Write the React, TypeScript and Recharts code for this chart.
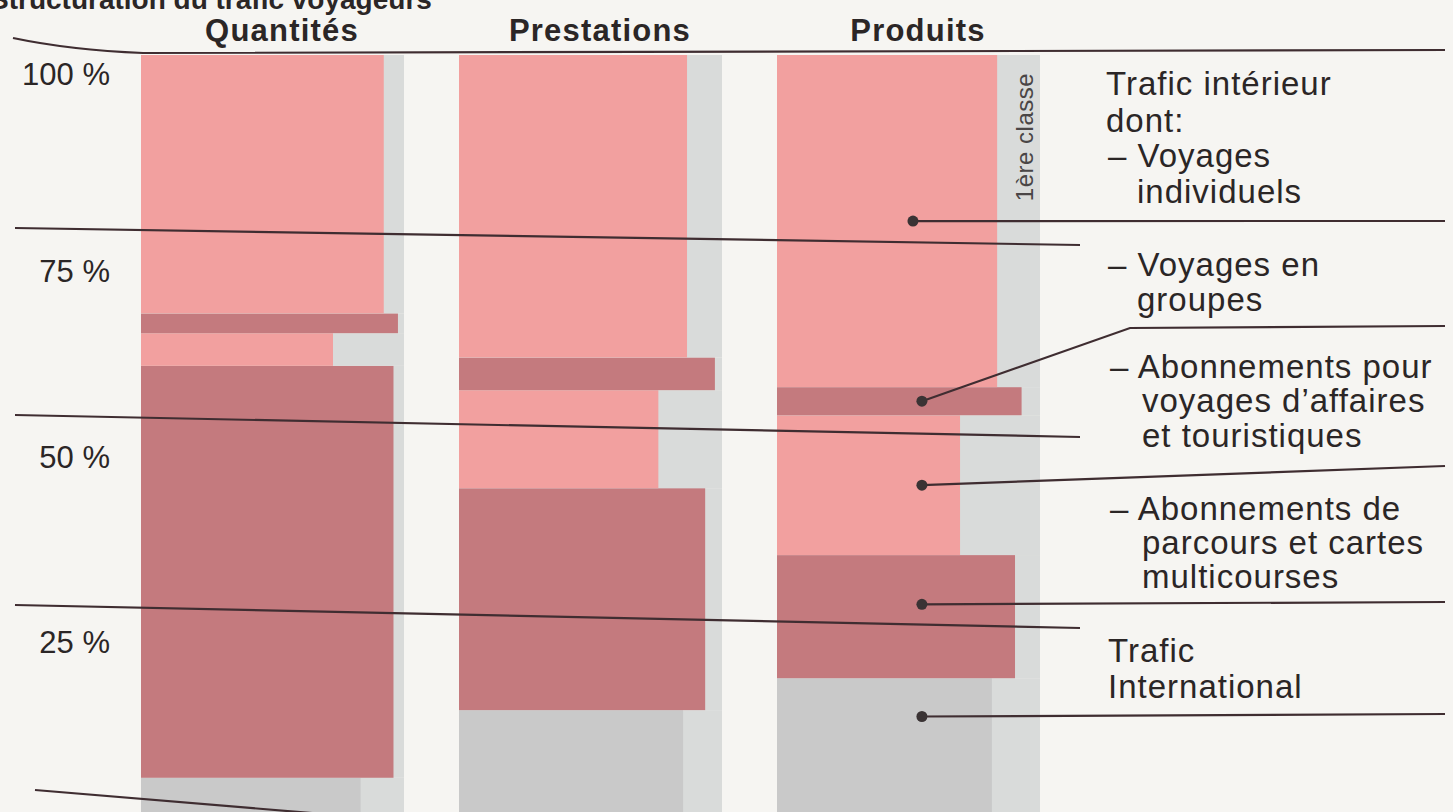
import React from 'react';
import { BarChart, Bar, XAxis, YAxis, ReferenceLine } from 'recharts';

// ---------- data ----------
const categories = ['Quantités', 'Prestations', 'Produits'];
// share of total traffic, % (stacked bottom -> top)
const international = [4.9, 13.8, 18.0];
const parcours = [54.2, 29.2, 16.2];
const affaires = [4.3, 12.9, 18.4];
const groupes = [2.6, 4.3, 3.7];
const individuels = [34.0, 39.8, 43.7];
// part of each segment travelling in 2nd class, % (rest = 1ère classe)
const international2 = [83.5, 85.2, 81.7];
const parcours2 = [96.0, 93.6, 90.5];
const affaires2 = [73.0, 75.8, 69.6];
const groupes2 = [97.7, 97.3, 93.0];
const individuels2 = [92.3, 86.7, 83.7];
const yTicks = [0, 25, 50, 75, 100];
const tickLabels = ['', '25 %', '50 %', '75 %', '100 %'];

const data = categories.map((name, i) => ({
  name,
  international: international[i],
  parcours: parcours[i],
  affaires: affaires[i],
  groupes: groupes[i],
  individuels: individuels[i],
  international2: international2[i],
  parcours2: parcours2[i],
  affaires2: affaires2[i],
  groupes2: groupes2[i],
  individuels2: individuels2[i],
}));

// ---------- styles ----------
const FONT = '"Liberation Sans", Arial, Helvetica, sans-serif';
const INK = '#2b2626';
const LINE = '#3f2d31';
const STRIP = '#d9dbda';
const LIGHT = '#f2a09f';
const DARK = '#c47a7e';
const GREY = '#c9c9c9';
const BG = '#f6f5f2';
const LEADER_CATEGORY = 'Produits';

const SERIES = [
  { key: 'international', share: 'international2', color: GREY, dotX: 0.551, dotF: 0.28, leader: [[1445, 714]] },
  { key: 'parcours', share: 'parcours2', color: DARK, dotX: 0.551, dotF: 0.4, leader: [[1445, 602]] },
  { key: 'affaires', share: 'affaires2', color: LIGHT, dotX: 0.551, dotF: 0.5, leader: [[1445, 466]] },
  { key: 'groupes', share: 'groupes2', color: DARK, dotX: 0.551, dotF: 0.5, leader: [[1130, 328], [1445, 326]] },
  { key: 'individuels', share: 'individuels2', color: LIGHT, dotX: 0.517, dotF: 0.5, leader: [[1445, 221]] },
];

// gridline drawing offsets (hand-drawn, slightly slanted lines)
const GRID_STYLE: Record<number, { path: (y: number) => string; labelDy: number }> = {
  100: { path: (y) => `M13,${y - 17} Q70,${y - 5} 143,${y - 2} L1445,${y - 5}`, labelDy: 30 },
  75: { path: (y) => `M15,${y - 17} L1080,${y}`, labelDy: 37 },
  50: { path: (y) => `M15,${y - 20} L1080,${y + 2}`, labelDy: 33 },
  25: { path: (y) => `M15,${y - 20} L1080,${y + 3}`, labelDy: 28 },
  0: { path: (y) => `M35,${y - 25} L1080,${y + 62}`, labelDy: 30 },
};

function Leaders(props: any) {
  const { x, y, width, height, payload } = props;
  const topKey = SERIES[SERIES.length - 1].key;
  const ppu = height / payload[topKey];
  let top = y;
  const out: React.ReactNode[] = [];
  for (let i = SERIES.length - 1; i >= 0; i--) {
    const s = SERIES[i];
    const h = payload[s.key] * ppu;
    const cx = x + width * s.dotX;
    const cy = top + h * s.dotF;
    const pts = [[cx, cy], ...s.leader];
    out.push(
      <g key={s.key}>
        <polyline
          points={pts.map((p) => p.join(',')).join(' ')}
          fill="none"
          stroke={LINE}
          strokeWidth={2.2}
        />
        <circle cx={cx} cy={cy} r={5.5} fill="#3a3334" />
      </g>
    );
    top += h;
  }
  return <g>{out}</g>;
}

function segShape(idx: number) {
  const s = SERIES[idx];
  return (props: any) => {
    const { x, y, width, height, payload } = props;
    if (!height || height <= 0) return <g />;
    const share = payload[s.share] / 100;
    return (
      <g>
        <rect x={x} y={y} width={width} height={height} fill={STRIP} />
        <rect x={x} y={y} width={width * share} height={height} fill={s.color} />
        {idx === SERIES.length - 1 && payload.name === LEADER_CATEGORY ? <Leaders {...props} /> : null}
      </g>
    );
  };
}

function gridShape(value: number, label: string) {
  return (p: any) => {
    const y = p.y1;
    const st = GRID_STYLE[value];
    return (
      <g>
        <path d={st.path(y)} fill="none" stroke={LINE} strokeWidth={2.2} />
        {label ? (
          <text x={110} y={y + st.labelDy} textAnchor="end" fontFamily={FONT} fontSize={31} fill={INK}>
            {label}
          </text>
        ) : null}
      </g>
    );
  };
}

function HeadTick(props: any) {
  const { x, payload } = props;
  return (
    <text
      x={x + 10}
      y={41}
      textAnchor="middle"
      fontFamily={FONT}
      fontWeight="bold"
      fontSize={31}
      letterSpacing={1.2}
      fill={INK}
    >
      {payload.value}
    </text>
  );
}

const legendLines: { x: number; y: number; t: string }[] = [
  { x: 1106, y: 95, t: 'Trafic intérieur' },
  { x: 1106, y: 132, t: 'dont:' },
  { x: 1108, y: 167, t: '– Voyages' },
  { x: 1137, y: 203, t: 'individuels' },
  { x: 1108, y: 276, t: '– Voyages en' },
  { x: 1137, y: 311, t: 'groupes' },
  { x: 1110, y: 378, t: '– Abonnements pour' },
  { x: 1142, y: 412, t: 'voyages d’affaires' },
  { x: 1142, y: 447, t: 'et touristiques' },
  { x: 1110, y: 520, t: '– Abonnements de' },
  { x: 1142, y: 554, t: 'parcours et cartes' },
  { x: 1142, y: 588, t: 'multicourses' },
  { x: 1108, y: 662, t: 'Trafic' },
  { x: 1108, y: 698, t: 'International' },
];

export default function App() {
  return (
    <div
      style={{
        position: 'absolute',
        left: 0,
        top: 0,
        width: 1453,
        height: 812,
        overflow: 'hidden',
        background: BG,
      }}
    >
      <BarChart
        width={1453}
        height={830}
        data={data}
        margin={{ top: 15, right: 386, bottom: 15, left: 113 }}
        barSize={263}
      >
        <XAxis
          dataKey="name"
          orientation="top"
          height={40}
          axisLine={false}
          tickLine={false}
          interval={0}
          tick={<HeadTick />}
        />
        <YAxis hide domain={[0, 100]} ticks={yTicks} />
        {SERIES.map((s, i) => (
          <Bar key={s.key} dataKey={s.key} stackId="a" isAnimationActive={false} shape={segShape(i)} />
        ))}
        {yTicks.map((v, i) => (
          <ReferenceLine key={v} y={v} ifOverflow="visible" shape={gridShape(v, tickLabels[i])} />
        ))}
      </BarChart>
      <svg
        width={1453}
        height={812}
        style={{ position: 'absolute', left: 0, top: 0, pointerEvents: 'none' }}
      >
        <text x={-10} y={9} fontFamily={FONT} fontWeight="bold" fontSize={28} fill={INK}>
          Structuration du trafic voyageurs
        </text>
        {legendLines.map((l, i) => (
          <text key={i} x={l.x} y={l.y} fontFamily={FONT} fontSize={33} letterSpacing={1} fill={INK}>
            {l.t}
          </text>
        ))}
        <text
          x={1033}
          y={137}
          transform="rotate(-90 1033 137)"
          textAnchor="middle"
          fontFamily={FONT}
          fontSize={24}
          letterSpacing={0.5}
          fill="#4a4646"
        >
          1ère classe
        </text>
      </svg>
    </div>
  );
}
